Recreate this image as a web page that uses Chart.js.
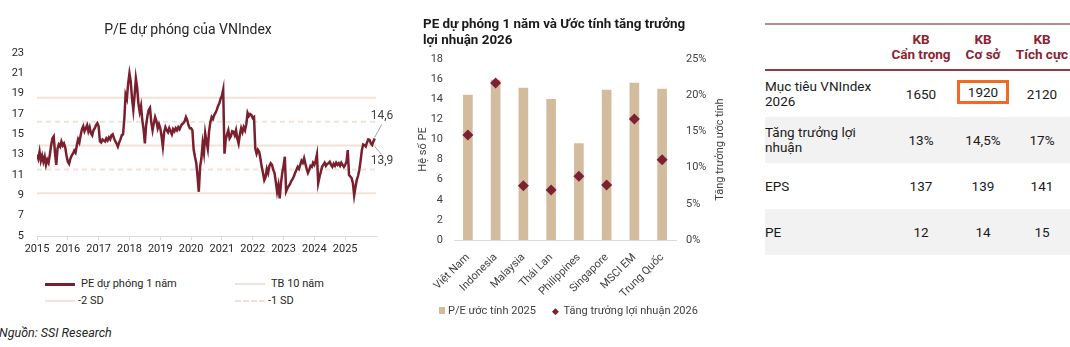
<!DOCTYPE html>
<html lang="vi">
<head>
<meta charset="utf-8">
<script src="https://cdn.jsdelivr.net/npm/chart.js@4.4.1/dist/chart.umd.min.js"></script>
<style>
body { margin:0; width:1070px; height:347px; background:#fff; font-family:Roboto, sans-serif; color:#262626; position:relative; overflow:hidden; }
canvas { position:absolute; top:0; }
#peChart { left:0; }
#cmpChart { left:400px; }
.lg { position:absolute; font-size:11px; line-height:14px; white-space:nowrap; }
.sw { display:inline-block; width:30px; vertical-align:middle; margin-right:6px; }
.title2 { position:absolute; left:423px; top:16px; font-size:13.4px; font-weight:bold; line-height:16px; color:#1a1a1a; }
.src { position:absolute; left:-1px; top:325px; font-size:12.5px; font-style:italic; color:#262626; }
.lg2 { position:absolute; top:304px; font-size:11px; line-height:14px; color:#404040; white-space:nowrap; }
table { position:absolute; left:765px; top:23px; width:305px; border-collapse:separate; border-spacing:0; table-layout:fixed; font-size:13.5px; color:#1a1a1a; }
th { height:44px; padding:0; font-weight:bold; color:#8B2332; line-height:15px; border-top:2px solid #B98A90; border-bottom:2px solid #8F3B48; text-align:center; }
td { height:46px; padding:0; line-height:15px; text-align:center; vertical-align:middle; }
td:first-child { text-align:left; }
tr.alt td { background:#F2F2F2; }
.hl { display:inline-block; border:3px solid #F26A21; width:46px; line-height:18px; position:relative; top:-2px; }
</style>
</head>
<body>
<canvas id="peChart" width="408" height="265"></canvas>
<canvas id="cmpChart" width="330" height="300"></canvas>

<div class="lg" style="left:45px;top:277px"><span class="sw" style="border-top:3px solid #7A1F2E"></span>PE dự phóng 1 năm</div>
<div class="lg" style="left:235px;top:277px"><span class="sw" style="border-top:2px solid #F1E3D8"></span>TB 10 năm</div>
<div class="lg" style="left:45px;top:294px"><span class="sw" style="border-top:2px solid #F1E3D8;margin-right:3px"></span>-2 SD</div>
<div class="lg" style="left:235px;top:294px"><span class="sw" style="border-top:2px dashed #F1E3D8;margin-right:3px"></span>-1 SD</div>
<div class="src">Nguồn: SSI Research</div>

<div class="title2">PE dự phóng 1 năm và Ước tính tăng trưởng<br>lợi nhuận 2026</div>
<div class="lg2" style="left:439px"><span style="display:inline-block;width:6px;height:7px;background:#D3BB9E;margin-right:3px"></span>P/E ước tính 2025</div>
<div class="lg2" style="left:552px"><span style="color:#7B2232;font-size:9px;margin-right:2px">◆</span> Tăng trưởng lợi nhuận 2026</div>

<table>
  <colgroup><col style="width:125px"><col style="width:62px"><col style="width:62px"><col style="width:56px"></colgroup>
  <thead><tr><th></th><th>KB<br>Cẩn trọng</th><th>KB<br>Cơ sở</th><th>KB<br>Tích cực</th></tr></thead>
  <tbody>
    <tr><td>Mục tiêu VNIndex<br>2026</td><td>1650</td><td><span class="hl">1920</span></td><td>2120</td></tr>
    <tr class="alt"><td>Tăng trưởng lợi<br>nhuận</td><td>13%</td><td>14,5%</td><td>17%</td></tr>
    <tr><td>EPS</td><td>137</td><td>139</td><td>141</td></tr>
    <tr class="alt"><td>PE</td><td>12</td><td>14</td><td>15</td></tr>
  </tbody>
</table>

<script>
// P/E dự phóng VNIndex, 2 điểm mỗi tháng từ đầu 2015
const startYear = 2015;
const perYear = 24;
const peForward = [
  13.0, 12.6, 13.3, 12.4, 12.9, 12.3, 12.8, 12.0, 12.5, 12.2, 13.0, 13.9, 14.6, 14.8, 13.2, 12.0, 13.6, 14.0, 13.8, 14.3, 13.9, 14.1, 13.7, 12.9, // 2015
  12.3, 12.1, 12.6, 12.9, 13.1, 13.4, 13.2, 13.9, 14.5, 14.2, 14.9, 15.5, 15.8, 15.3, 15.6, 15.9, 15.3, 15.7, 15.1, 14.9, 15.4, 15.6, 15.9, 16.1, // 2016
  15.8, 14.3, 14.2, 14.5, 14.4, 14.3, 14.6, 14.4, 14.7, 14.5, 14.9, 15.0, 14.6, 14.3, 14.1, 13.8, 14.2, 14.5, 14.9, 15.0, 16.5, 18.9, 18.5, 20.0, // 2017
  21.0, 20.2, 18.5, 17.4, 18.8, 20.5, 19.6, 18.0, 17.2, 17.8, 16.4, 15.5, 14.1, 15.9, 16.8, 17.4, 17.6, 16.2, 15.4, 16.1, 16.7, 16.3, 15.6, 16.0, // 2018
  15.6, 14.8, 13.8, 15.2, 15.7, 15.4, 15.2, 15.6, 15.3, 15.0, 15.5, 15.3, 15.6, 15.4, 15.7, 15.5, 15.8, 16.0, 16.1, 16.3, 16.7, 16.4, 15.9, 15.6, // 2019
  15.6, 15.4, 13.5, 12.8, 12.2, 10.9, 9.35, 11.8, 12.6, 14.1, 13.2, 15.1, 14.3, 13.6, 15.3, 16.2, 16.7, 16.5, 16.9, 17.1, 17.4, 17.8, 18.05, 18.5, // 2020
  18.8, 19.4, 13.1, 14.5, 15.0, 15.4, 14.6, 14.8, 15.3, 15.25, 14.9, 15.4, 14.6, 14.1, 15.0, 15.6, 15.2, 15.7, 15.4, 16.0, 17.1, 16.8, 17.0, 16.9, // 2021
  16.6, 16.7, 13.6, 13.1, 13.5, 13.3, 12.6, 11.8, 11.2, 10.5, 10.8, 11.6, 11.2, 11.9, 12.15, 12.0, 11.5, 11.2, 10.3, 9.35, 10.0, 8.7, 10.2, 11.2, // 2022
  11.9, 12.8, 9.4, 9.7, 9.9, 10.1, 10.4, 10.6, 10.85, 11.2, 11.5, 11.8, 11.6, 12.0, 12.4, 12.2, 12.65, 12.1, 11.6, 11.2, 11.5, 11.9, 11.8, 12.2, // 2023
  12.0, 12.4, 13.0, 10.2, 10.8, 11.3, 11.8, 12.0, 12.2, 11.9, 12.1, 12.15, 12.3, 12.0, 11.8, 12.1, 11.9, 12.2, 12.0, 12.15, 11.9, 12.2, 12.0, 11.8, // 2024
  12.0, 12.3, 13.45, 11.0, 10.85, 10.7, 10.2, 9.0, 9.8, 10.5, 10.9, 11.5, 12.4, 13.45, 14.0, 13.95, 13.8, 14.2, 14.5, 14.45, 14.1, 13.95, 14.3, 14.6 // 2025
];
// đường trung bình 10 năm và độ lệch chuẩn
const tb10 = 13.9;
const sdPlus2 = 18.6;
const sdPlus1 = 16.25;
const sdMinus1 = 11.55;
const sdMinus2 = 9.2;

// so sánh khu vực
const markets = ['Việt Nam', 'Indonesia', 'Malaysia', 'Thái Lan', 'Philippines', 'Singapore', 'MSCI EM', 'Trung Quốc'];
const pe2025 = [14.4, 15.9, 15.1, 14.0, 9.6, 14.9, 15.6, 15.0];
const growth2026 = [0.145, 0.217, 0.075, 0.069, 0.088, 0.076, 0.167, 0.111];

Chart.defaults.font.family = 'Roboto';

const maroon = '#7A1F2E';
const pale = '#F1E3D8';

const pePoints = peForward.map((v, i) => ({ x: startYear + i / perYear, y: v }));
const flat = v => [{ x: 2015, y: v }, { x: 2026, y: v }];

function refLine(label, v, dashed) {
    return {
        label: label,
        data: flat(v),
        borderColor: pale,
        borderWidth: 2,
        borderDash: dashed ? [5, 4] : [],
        pointRadius: 0
    };
}

// nhãn giá trị cuối kỳ
const endLabels = {
    id: 'endLabels',
    afterDatasetsDraw(chart) {
        const { ctx, scales: { x, y } } = chart;
        const last = pePoints[pePoints.length - 1];
        const x0 = x.getPixelForValue(last.x);
        const fmt = v => v.toFixed(1).replace('.', ',');
        const items = [
            { v: last.y, dy: -14, ty: -22 },
            { v: tb10, dy: 9, ty: 15 }
        ];
        ctx.save();
        ctx.strokeStyle = '#A6A6A6';
        ctx.lineWidth = 1;
        ctx.fillStyle = '#404040';
        ctx.font = '12px Roboto';
        ctx.textAlign = 'left';
        ctx.textBaseline = 'middle';
        items.forEach(it => {
            const y0 = y.getPixelForValue(it.v);
            ctx.beginPath();
            ctx.moveTo(x0, y0 + (it.dy < 0 ? -1 : 1));
            ctx.lineTo(x0 + 7, y0 + it.dy);
            ctx.stroke();
            ctx.fillText(fmt(it.v), x0 - 4, y0 + it.ty);
        });
        ctx.restore();
    }
};

new Chart(document.getElementById('peChart'), {
    type: 'line',
    data: {
        datasets: [
            { label: 'PE dự phóng 1 năm', data: pePoints, borderColor: maroon, borderWidth: 2.5, pointRadius: 0, tension: 0 },
            refLine('TB 10 năm', tb10, false),
            refLine('+2 SD', sdPlus2, false),
            refLine('+1 SD', sdPlus1, true),
            refLine('-1 SD', sdMinus1, true),
            refLine('-2 SD', sdMinus2, false)
        ]
    },
    options: {
        responsive: false,
        animation: false,
        layout: { padding: { left: 0, right: 32, top: 0, bottom: 0 } },
        plugins: {
            legend: { display: false },
            tooltip: { enabled: false },
            title: {
                display: true,
                text: 'P/E dự phóng của VNIndex',
                color: '#262626',
                font: { size: 14, weight: 'normal' },
                padding: { top: 22, bottom: 14.2 }
            }
        },
        scales: {
            x: {
                type: 'linear',
                min: 2015,
                max: 2026,
                afterFit: s => { s.height = 29; },
                ticks: {
                    stepSize: 1,
                    color: '#262626',
                    font: { size: 11 },
                    padding: 3,
                    maxRotation: 0,
                    callback: v => (v === 2026 ? '' : String(v))
                },
                grid: {
                    drawOnChartArea: false,
                    tickLength: 4,
                    color: c => (c.tick && c.tick.value === 2026 ? 'rgba(0,0,0,0)' : '#D9D9D9')
                },
                border: { color: '#D9D9D9' }
            },
            y: {
                min: 5,
                max: 23,
                afterFit: s => { s.width = 37; },
                ticks: { stepSize: 2, color: '#262626', font: { size: 11 }, padding: 13 },
                grid: { display: false, drawTicks: false },
                border: { display: false }
            }
        }
    },
    plugins: [endLabels]
});

// tiêu đề trục phải, đọc từ dưới lên
const rightTitle = {
    id: 'rightTitle',
    afterDraw(chart) {
        const { ctx, chartArea } = chart;
        ctx.save();
        ctx.translate(chart.width - 10, (chartArea.top + chartArea.bottom) / 2);
        ctx.rotate(-Math.PI / 2);
        ctx.fillStyle = '#404040';
        ctx.font = '11px Roboto';
        ctx.textAlign = 'center';
        ctx.textBaseline = 'middle';
        ctx.fillText('Tăng trưởng ước tính', 0, 0);
        ctx.restore();
    }
};

new Chart(document.getElementById('cmpChart'), {
    type: 'bar',
    data: {
        labels: markets,
        datasets: [
            {
                type: 'line',
                label: 'Tăng trưởng lợi nhuận 2026',
                data: growth2026,
                yAxisID: 'y1',
                showLine: false,
                pointStyle: 'rectRot',
                pointRadius: 5.5,
                pointBackgroundColor: '#7B2232',
                pointBorderWidth: 0
            },
            {
                label: 'P/E ước tính 2025',
                data: pe2025,
                yAxisID: 'y',
                backgroundColor: '#D3BB9E',
                barThickness: 9
            }
        ]
    },
    options: {
        responsive: false,
        animation: false,
        layout: { padding: { left: 17, right: 0, top: 59, bottom: 0 } },
        plugins: { legend: { display: false }, tooltip: { enabled: false } },
        scales: {
            x: {
                afterFit: s => { s.height = 60; },
                ticks: { color: '#404040', font: { size: 11 }, minRotation: 45, maxRotation: 45, autoSkip: false },
                grid: { display: false },
                border: { color: '#D9D9D9' }
            },
            y: {
                position: 'left',
                min: 0,
                max: 18,
                afterFit: s => { s.width = 37; },
                ticks: { stepSize: 2, color: '#404040', font: { size: 11 }, padding: 11 },
                title: { display: true, text: 'Hệ số PE', color: '#404040', font: { size: 11 }, padding: 0 },
                grid: { display: false, drawTicks: false },
                border: { display: false }
            },
            y1: {
                position: 'right',
                min: 0,
                max: 0.25,
                afterFit: s => { s.width = 54; },
                ticks: { stepSize: 0.05, color: '#404040', font: { size: 11 }, padding: 10, callback: v => Math.round(v * 100) + '%' },
                grid: { display: false, drawTicks: false },
                border: { display: false }
            }
        }
    },
    plugins: [rightTitle]
});
</script>
</body>
</html>
